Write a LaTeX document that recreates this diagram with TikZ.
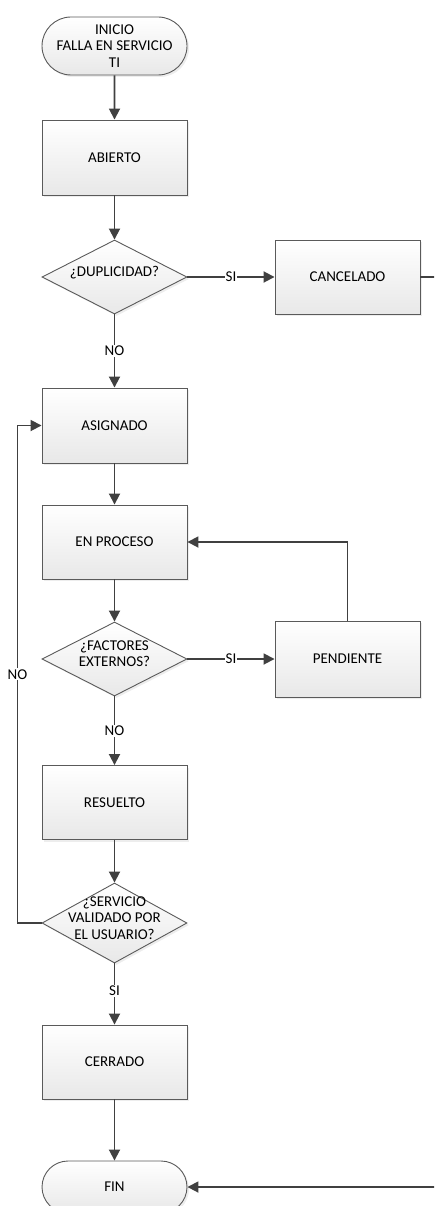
\documentclass[tikz,border=0pt]{standalone}
\usepackage{fontspec}
\setmainfont{Carlito}
\usetikzlibrary{shapes.geometric,shapes.misc,arrows.meta,shadows}

\definecolor{edge}{HTML}{404040}
\definecolor{frame}{HTML}{5A5A5A}

% text of a decision stays centred without enlarging the diamond
\newcommand\flattext[1]{\makebox[0pt]{\smash{\begin{tabular}{@{}c@{}}#1\end{tabular}}}}

\tikzset{
  base/.style={draw=frame, line width=0.9pt, top color=white, bottom color=black!9,
    drop shadow={shadow xshift=2pt, shadow yshift=-2pt, fill=black!14},
    font=\fontsize{15}{16.5}\selectfont, align=center, inner sep=0pt},
  procbox/.style={base, rectangle, minimum width=145pt, minimum height=74pt},
  termbox/.style={base, rounded rectangle, minimum width=145pt},
  decbox/.style={base, diamond, minimum width=145pt, minimum height=74pt},
  conn/.style={draw=edge, line width=1.8pt, -{Triangle[length=11pt,width=11pt]}},
  wire/.style={draw=edge, line width=1.8pt},
  lbl/.style={fill=white, inner sep=1pt, font=\fontsize{15}{16.5}\selectfont}
}

\begin{document}
\begin{tikzpicture}[x=1pt,y=-1pt]
\useasboundingbox (0,0) rectangle (434,1206);
\clip (0,0) rectangle (434,1206);

% steps of the flow
\node[termbox, minimum height=58pt] (inicio) at (114.5,46) {INICIO\\FALLA EN SERVICIO\\TI};
\node[procbox, minimum height=75pt] (abierto) at (114.5,157.5) {ABIERTO};
\node[decbox] (dup) at (114.5,277) {\flattext{¿DUPLICIDAD?}};
\node[procbox] (cancelado) at (347.5,277) {CANCELADO};
\node[procbox, minimum height=75pt] (asignado) at (114.5,425.5) {ASIGNADO};
\node[procbox] (proceso) at (114.5,542) {EN PROCESO};
\node[decbox] (factores) at (114.5,659) {\flattext{¿FACTORES\\EXTERNOS?}};
\node[procbox, minimum height=76pt] (pendiente) at (347.5,659) {PENDIENTE};
\node[procbox] (resuelto) at (114.5,802.5) {RESUELTO};
\node[decbox, minimum height=80pt] (servicio) at (114.5,923) {\flattext{¿SERVICIO\\VALIDADO POR\\EL USUARIO?}};
\node[procbox] (cerrado) at (114.5,1062) {CERRADO};
\node[termbox, minimum height=52pt] (fin) at (114.5,1187) {FIN};

% connectors
\draw[conn] (inicio) -- (abierto);
\draw[conn] (abierto) -- (dup);
\draw[conn] (dup) -- node[lbl]{SI} (cancelado);
\draw[conn] (dup) -- node[lbl]{NO} (asignado);
\draw[conn] (asignado) -- (proceso);
\draw[conn] (proceso) -- (factores);
\draw[conn] (factores) -- node[lbl]{SI} (pendiente);
\draw[conn] (pendiente.north) |- (proceso.east);
\draw[conn] (factores) -- node[lbl]{NO} (resuelto);
\draw[conn] (resuelto) -- (servicio);
\draw[conn] (servicio.west) -- ++(-24,0) |- node[lbl, pos=0.25]{NO} (asignado.west);
\draw[conn] (servicio) -- node[lbl, pos=0.45]{SI} (cerrado);
\draw[conn] (cerrado) -- (fin);
\draw[conn] (cancelado.east) -- ++(30,0) |- (fin.east);
\end{tikzpicture}
\end{document}
